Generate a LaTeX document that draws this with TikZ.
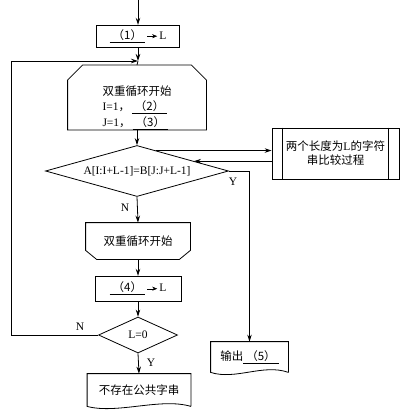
\documentclass[tikz,border=0pt]{standalone}
\usepackage{fontspec}
\setmainfont{Liberation Serif}
\newfontfamily\cjk{Noto Sans CJK SC}
\usepackage{tikz}
\usetikzlibrary{arrows.meta, shapes.geometric, calc}

\newcommand{\toL}{\tikz[baseline=-0.6ex]\draw[-{Stealth[length=5pt,width=4pt]}] (0pt,0pt) -- (10pt,0pt);\,L}
\newcommand{\blank}[1]{\underline{\hspace{3pt}{\cjk （#1）}\hspace{3pt}}}

\begin{document}
\begin{tikzpicture}[x=1pt, y=-1pt, line width=0.8pt,
    font=\fontsize{11.5}{14}\selectfont,
    arr/.style={-{Stealth[length=7pt, width=4.5pt]}},
    plain/.style={inner sep=0pt}]
      \useasboundingbox (0,0) rectangle (407,419);

      % entry and first assignment
      \coordinate (start) at (138,0);
      \node[draw, plain, minimum width=83pt, minimum height=22pt]
            (len) at (138,36) {\blank{1}\,\toL};
      \coordinate (join) at (138,61);

      % outer loop start (cut top corners)
      \node[plain, minimum width=138pt, minimum height=55pt,
            align=left, font=\fontsize{11.5}{15.5}\selectfont]
            (loopA) at (137,97.5)
            {\rule{0pt}{30pt}{\cjk 双重循环开始}\\
             I=1{\cjk ，}\,\blank{2}\\
             J=1{\cjk ，}\,\blank{3}};
      \draw ($(loopA.north west)+(15,0)$) -- ($(loopA.north east)+(-15,0)$)
            -- ($(loopA.north east)+(0,15)$) -- (loopA.south east)
            -- (loopA.south west) -- ($(loopA.north west)+(0,15)$) -- cycle;

      % comparison
      \node[diamond, draw, plain, aspect=3.6, minimum width=183pt, minimum height=51pt]
            (cmp) at (137,171) {A[I:I+L-1]=B[J:J+L-1]};
      \coordinate (cmpout) at ($(cmp.north)!0.21!(cmp.east)$);
      \coordinate (cmpin) at ($(cmp.north)!0.62!(cmp.east)$);

      % predefined process box
      \node[draw, plain, minimum width=127pt, minimum height=51pt,
            align=center, font=\cjk\fontsize{11.5}{14}\selectfont]
            (proc) at (335.5,153.5) {两个长度为{\rmfamily L}的字符\\串比较过程};
      \draw ($(proc.north west)+(11,0)$) -- ($(proc.south west)+(11,0)$);
      \draw ($(proc.north east)+(-11,0)$) -- ($(proc.south east)+(-11,0)$);

      % output (5)
      \node[plain, minimum width=77pt, minimum height=30pt]
            (out) at (249.5,357) {{\cjk 输出}\blank{5}};
      \draw (out.south east) -- (out.north east) -- (out.north west)
            -- (out.south west) .. controls +(25,8) and +(-25,-9) .. (out.south east);

      % outer loop end (cut bottom corners)
      \node[plain, minimum width=104pt, minimum height=36pt]
            (loopB) at (138,241) {\cjk 双重循环开始};
      \draw (loopB.north west) -- (loopB.north east)
            -- ($(loopB.south east)+(0,-9)$) -- ($(loopB.south east)+(-11,0)$)
            -- ($(loopB.south west)+(11,0)$) -- ($(loopB.south west)+(0,-9)$) -- cycle;

      % shorten L
      \node[draw, plain, minimum width=86pt, minimum height=25pt]
            (len2) at (138,288.5) {\blank{4}\,\toL};

      % L = 0 ?
      \node[diamond, draw, plain, aspect=2.2, minimum width=79pt, minimum height=36pt]
            (zero) at (138,335) {L=0};

      % no common substring
      \node[plain, minimum width=103pt, minimum height=32pt]
            (none) at (139,390) {\cjk 不存在公共字串};
      \draw (none.south east) -- (none.north east) -- (none.north west)
            -- (none.south west) .. controls +(30,8) and +(-30,-9) .. (none.south east);

      % branch labels
      \node (cmpN) at (125,208) {N};
      \node (cmpY) at (233,182) {Y};
      \node (zeroN) at (80,327) {N};
      \node (zeroY) at (151,363) {Y};

      % connectors
      \draw[arr] (start) -- (len.north);
      \draw[arr] (len.south) -- (join);
      \draw (join) -- (loopA.north);
      \draw[arr] (loopA.south) -- (cmp.north);
      \draw[arr] (cmpout) -- (cmpout -| proc.west);
      \draw[arr] (proc.west |- cmpin) -- (cmpin);
      \draw[arr] (cmp.east) -| (out.north);
      \draw[arr] (cmp.south) -- (loopB.north);
      \draw[arr] (loopB.south) -- (len2.north);
      \draw[arr] (len2.south) -- (zero.north);
      \draw[arr] (zero.south) -- (none.north);
      \draw[arr] (zero.west) -- ++(-87,0) |- (join);

    \end{tikzpicture}
\end{document}
